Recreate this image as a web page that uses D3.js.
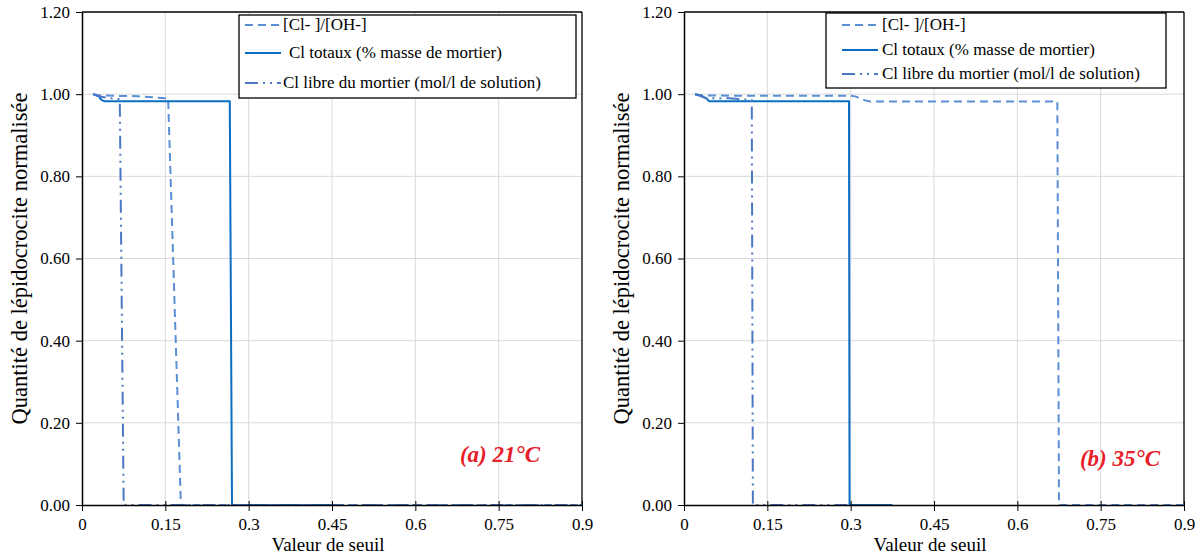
<!DOCTYPE html>
<html><head><meta charset="utf-8">
<script src="https://cdn.jsdelivr.net/npm/d3@7"></script>
<style>
body{margin:0;background:#fff;}
svg text{font-family:"Liberation Serif","Times New Roman","DejaVu Serif",serif !important;fill:#000;}
</style></head>
<body><svg id="c" width="1203" height="559"></svg>
<script>
// ---- data ----
const xTicks = [0, 0.15, 0.3, 0.45, 0.6, 0.75, 0.9];
const xTickLabels = ["0", "0.15", "0.3", "0.45", "0.6", "0.75", "0.9"];
const yTicks = [0, 0.2, 0.4, 0.6, 0.8, 1.0, 1.2];
const yTickLabels = ["0.00", "0.20", "0.40", "0.60", "0.80", "1.00", "1.20"];
const seriesNames = ["[Cl- ]/[OH-]", "Cl totaux (% masse de mortier)", "Cl libre du mortier (mol/l de solution)"];
const xLabel = "Valeur de seuil";
const yLabel = "Quantité de lépidocrocite normalisée";
const panelTitles = ["(a) 21°C", "(b) 35°C"];

// Panel (a) 21°C
const ratioA_x = [0.02, 0.03, 0.06, 0.10, 0.13, 0.155, 0.178, 0.9];
const ratioA_y = [1.0, 0.997, 0.996, 0.995, 0.992, 0.99, 0, 0];
const totalA_x = [0.02, 0.03, 0.035, 0.04, 0.266, 0.27, 0.45];
const totalA_y = [1.0, 0.995, 0.986, 0.983, 0.983, 0, 0];
const libreA_x = [0.02, 0.03, 0.05, 0.068, 0.075, 0.9];
const libreA_y = [1.0, 0.995, 0.99, 0.988, 0, 0];

// Panel (b) 35°C
const ratioB_x = [0.02, 0.03, 0.10, 0.30, 0.31, 0.32, 0.335, 0.672, 0.675, 0.9];
const ratioB_y = [1.0, 0.997, 0.996, 0.996, 0.994, 0.987, 0.982, 0.982, 0, 0];
const totalB_x = [0.02, 0.03, 0.04, 0.045, 0.297, 0.298, 0.375];
const totalB_y = [1.0, 0.997, 0.99, 0.983, 0.983, 0, 0];
const libreB_x = [0.02, 0.04, 0.08, 0.122, 0.124, 0.3];
const libreB_y = [1.0, 0.99, 0.99, 0.986, 0, 0];

// ---- drawing ----
const svg = d3.select("#c");
const FONT = '"Liberation Serif","Times New Roman","DejaVu Serif",serif';
const styles = [
  {color: "#5b8fd4", dash: "8,5", width: 2},
  {color: "#0a6fc2", dash: null, width: 2},
  {color: "#4a78c4", dash: "13,5,2,5,2,5", width: 2}
];

const panels = [
  {x0: 82, x1: 582, series: [[ratioA_x, ratioA_y], [totalA_x, totalA_y], [libreA_x, libreA_y]],
   legend: {x: 239, y: 15, w: 337, h: 83, rows: [25, 53, 83], sx: 245, tx: [283, 289, 283]},
   title: {x: 540, y: 462}, ylx: 20},
  {x0: 684, x1: 1184, series: [[ratioB_x, ratioB_y], [totalB_x, totalB_y], [libreB_x, libreB_y]],
   legend: {x: 826, y: 13, w: 340, h: 75, rows: [25, 50, 74], sx: 842, tx: [882, 882, 882]},
   title: {x: 1160, y: 466}, ylx: 622}
];

const yTop = 12, yBot = 505;

panels.forEach((p, pi) => {
  const x = d3.scaleLinear().domain([0, 0.9]).range([p.x0, p.x1]);
  const y = d3.scaleLinear().domain([0, 1.2]).range([yBot, yTop]);
  const g = svg.append("g").style("font-family", FONT);

  // grid
  g.selectAll(".gx").data(xTicks.slice(1, -1)).enter().append("line")
    .attr("x1", d => x(d)).attr("x2", d => x(d)).attr("y1", yTop).attr("y2", yBot)
    .attr("stroke", "#d9d9d9").attr("stroke-width", 1);
  g.selectAll(".gy").data(yTicks.slice(1, -1)).enter().append("line")
    .attr("x1", p.x0).attr("x2", p.x1).attr("y1", d => y(d)).attr("y2", d => y(d))
    .attr("stroke", "#d9d9d9").attr("stroke-width", 1);

  // frame top/right
  g.append("line").attr("x1", p.x0).attr("x2", p.x1).attr("y1", yTop).attr("y2", yTop)
    .attr("stroke", "#000").attr("stroke-width", 1.3);
  g.append("line").attr("x1", p.x1).attr("x2", p.x1).attr("y1", yTop).attr("y2", yBot)
    .attr("stroke", "#000").attr("stroke-width", 1.3);

  // series
  const line = d3.line().x(d => x(d[0])).y(d => y(d[1]));
  p.series.forEach((s, si) => {
    const pts = s[0].map((v, i) => [v, s[1][i]]);
    const st = styles[si];
    g.append("path").datum(pts).attr("d", line).attr("fill", "none")
      .attr("stroke", st.color).attr("stroke-width", st.width)
      .attr("stroke-dasharray", st.dash).attr("stroke-linejoin", "round");
  });

  // axes
  const ax = g.append("g").attr("transform", `translate(0,${yBot})`)
    .call(d3.axisBottom(x).tickValues(xTicks).tickFormat((d, i) => xTickLabels[i]).tickSizeInner(5).tickSizeOuter(0).tickPadding(8));
  ax.attr("font-family", null);
  ax.select(".domain").attr("stroke", "#000").attr("stroke-width", 1.5);
  ax.selectAll(".tick line").attr("y1", -4).attr("y2", 6).attr("stroke", "#000");
  ax.selectAll("text").attr("font-size", 17).style("font-family", FONT);

  const ay = g.append("g").attr("transform", `translate(${p.x0},0)`)
    .call(d3.axisLeft(y).tickValues(yTicks).tickFormat((d, i) => yTickLabels[i]).tickSizeInner(6).tickSizeOuter(0).tickPadding(6));
  ay.attr("font-family", null);
  ay.select(".domain").attr("stroke", "#000").attr("stroke-width", 1.5);
  ay.selectAll(".tick line").attr("stroke", "#000");
  ay.selectAll("text").attr("font-size", 17).style("font-family", FONT);

  // axis labels
  g.append("text").attr("x", (p.x0 + p.x1) / 2 - 4).attr("y", 551).attr("text-anchor", "middle")
    .attr("font-size", 19).style("font-family", FONT).text(xLabel);
  g.append("text").attr("transform", `translate(${p.ylx + 7},${(yTop + yBot) / 2}) rotate(-90)`)
    .attr("text-anchor", "middle").attr("font-size", 22.5).style("font-family", FONT).text(yLabel);

  // legend
  const L = p.legend;
  g.append("rect").attr("x", L.x).attr("y", L.y).attr("width", L.w).attr("height", L.h)
    .attr("fill", "#fff").attr("stroke", "#000").attr("stroke-width", 1.3);
  seriesNames.forEach((n, i) => {
    const st = styles[i];
    g.append("line").attr("x1", L.sx).attr("x2", L.sx + 36).attr("y1", L.rows[i]).attr("y2", L.rows[i])
      .attr("stroke", st.color).attr("stroke-width", st.width).attr("stroke-dasharray", st.dash);
    g.append("text").attr("x", L.tx[i]).attr("y", L.rows[i] + 5).attr("font-size", 17)
      .style("font-family", FONT).text(n);
  });

  // panel title
  g.append("text").attr("x", p.title.x).attr("y", p.title.y).attr("text-anchor", "end")
    .attr("font-size", 23).attr("font-weight", "bold").attr("font-style", "italic")
    .style("font-family", FONT).style("fill", "#e8202a").text(panelTitles[pi]);
});
</script></body></html>
